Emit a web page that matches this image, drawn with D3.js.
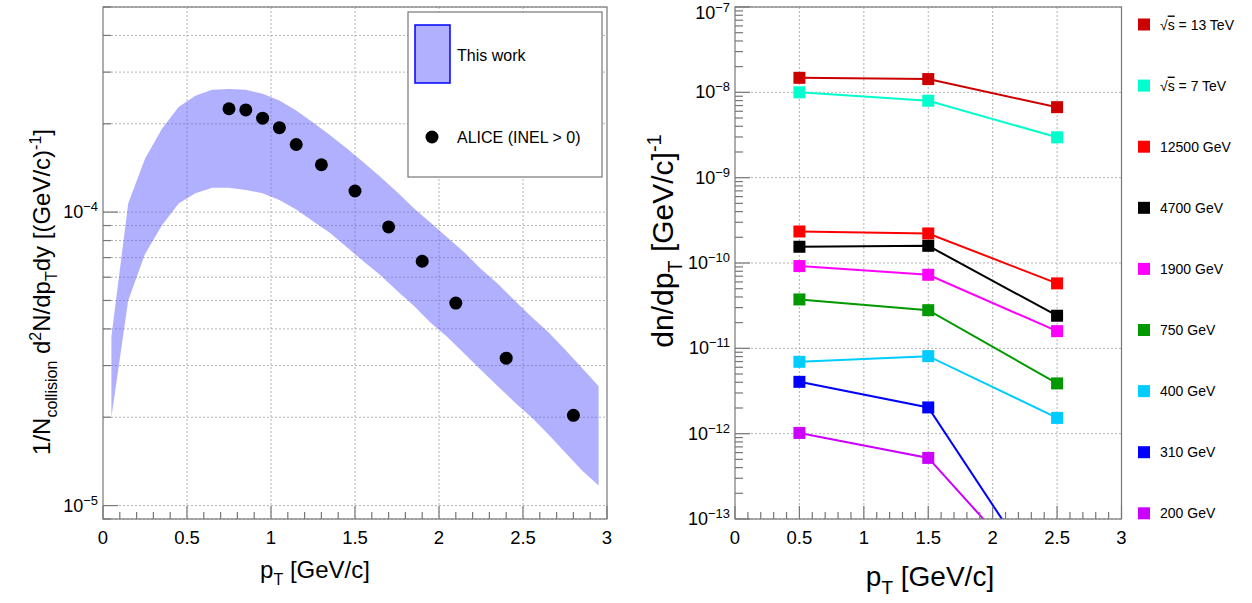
<!DOCTYPE html>
<html>
<head>
<meta charset="utf-8">
<script src="https://cdn.jsdelivr.net/npm/d3@7"></script>
<style>
  body { margin: 0; background: #fff; }
  svg { font-family: "Liberation Sans", Arial, sans-serif; }
</style>
</head>
<body>
<svg id="chart" width="1252" height="603"></svg>
<script>
// ---- left panel: model band + ALICE points ----
var bandPt = [0.05, 0.15, 0.25, 0.35, 0.45, 0.55, 0.65, 0.75, 0.85, 0.95,
              1.05, 1.15, 1.25, 1.35, 1.45, 1.55, 1.65, 1.75, 1.85, 1.95,
              2.05, 2.15, 2.25, 2.35, 2.45, 2.55, 2.65, 2.75, 2.85, 2.95];
var bandUpper = [3.76e-5, 1.07e-4, 1.52e-4, 1.92e-4, 2.28e-4, 2.49e-4, 2.61e-4, 2.63e-4, 2.61e-4, 2.53e-4,
                 2.40e-4, 2.22e-4, 2.02e-4, 1.83e-4, 1.65e-4, 1.48e-4, 1.32e-4, 1.17e-4, 1.03e-4, 9.2e-5,
                 8.2e-5, 7.3e-5, 6.4e-5, 5.7e-5, 5.0e-5, 4.4e-5, 3.9e-5, 3.4e-5, 2.95e-5, 2.55e-5];
var bandLower = [2.0e-5, 5.0e-5, 7.2e-5, 9.0e-5, 1.07e-4, 1.16e-4, 1.21e-4, 1.21e-4, 1.19e-4, 1.16e-4,
                 1.10e-4, 1.02e-4, 9.3e-5, 8.5e-5, 7.6e-5, 6.8e-5, 6.1e-5, 5.4e-5, 4.8e-5, 4.2e-5,
                 3.75e-5, 3.3e-5, 2.9e-5, 2.55e-5, 2.25e-5, 2.0e-5, 1.75e-5, 1.52e-5, 1.32e-5, 1.17e-5];
var alicePt = [0.75, 0.85, 0.95, 1.05, 1.15, 1.3, 1.5, 1.7, 1.9, 2.1, 2.4, 2.8];
var aliceY  = [2.25e-4, 2.23e-4, 2.09e-4, 1.94e-4, 1.70e-4, 1.45e-4, 1.18e-4, 8.9e-5, 6.8e-5, 4.9e-5, 3.18e-5, 2.03e-5];

// ---- right panel: dn/dpT vs energy ----
var rightPt = [0.5, 1.5, 2.5];
var s13TeV  = [1.48e-8, 1.43e-8, 6.7e-9];
var s7TeV   = [1.0e-8, 7.97e-9, 2.97e-9];
var e12500  = [2.34e-10, 2.22e-10, 5.77e-11];
var e4700   = [1.55e-10, 1.59e-10, 2.41e-11];
var e1900   = [9.2e-11, 7.28e-11, 1.59e-11];
var e750    = [3.74e-11, 2.8e-11, 3.88e-12];
var e400    = [6.95e-12, 8.1e-12, 1.53e-12];
var e310    = [4.05e-12, 2.03e-12, 1.05e-14];
var e200    = [1.02e-12, 5.2e-13, 1.1e-14];
var seriesNames = ["13 TeV", "7 TeV", "12500 GeV", "4700 GeV", "1900 GeV", "750 GeV", "400 GeV", "310 GeV", "200 GeV"];
var seriesColors = ["#cc0000", "#00ffcc", "#ff0000", "#000000", "#ff00ff", "#009900", "#00ccff", "#0000ff", "#cc00ff"];
var seriesValues = [s13TeV, s7TeV, e12500, e4700, e1900, e750, e400, e310, e200];

var svg = d3.select("#chart");
var axisCol = "#777";
var gridCol = "#b4b4b4";

function logTicks(lo, hi) {
    var out = [];
    for (var e = Math.floor(Math.log10(lo)); e <= Math.ceil(Math.log10(hi)); e++) {
        for (var k = 1; k <= 9; k++) {
            var v = k * Math.pow(10, e);
            if (v >= lo * 0.999 && v <= hi * 1.001) out.push({v: v, major: k === 1, e: e});
        }
    }
    return out;
}

function drawFrame(g, x, y, opts) {
    var x0 = x.range()[0], x1 = x.range()[1], yb = y.range()[0], yt = y.range()[1];
    var yd = y.domain();
    var yt_ = logTicks(yd[0], yd[1]);
    // grid
    var grid = g.append("g").attr("stroke", gridCol).attr("stroke-dasharray", "2,2").attr("stroke-width", 1);
    d3.range(0.5, 3, 0.5).forEach(function(t) {
        grid.append("line").attr("x1", x(t)).attr("x2", x(t)).attr("y1", yt).attr("y2", yb);
    });
    yt_.filter(function(t) { return opts.minorGrid || t.major; }).forEach(function(t) {
        grid.append("line").attr("x1", x0).attr("x2", x1).attr("y1", y(t.v)).attr("y2", y(t.v));
    });
    return yt_;
}

function drawAxes(g, x, y, yt_, opts) {
    var x0 = x.range()[0], x1 = x.range()[1], yb = y.range()[0], yt = y.range()[1];
    g.append("rect").attr("x", x0).attr("y", yt).attr("width", x1 - x0).attr("height", yb - yt)
        .attr("fill", "none").attr("stroke", axisCol).attr("stroke-width", 1.2);
    var tk = g.append("g").attr("stroke", axisCol).attr("stroke-width", 1.2);
    d3.range(0, 31).forEach(function(i) {
        var t = i / 10, len = (i % 5 === 0) ? 13 : 7;
        tk.append("line").attr("x1", x(t)).attr("x2", x(t)).attr("y1", yb).attr("y2", yb - len);
    });
    yt_.forEach(function(t) {
        tk.append("line").attr("x1", x0).attr("x2", x0 + (t.major ? 15 : 8)).attr("y1", y(t.v)).attr("y2", y(t.v));
    });
    // x labels
    [0, 0.5, 1, 1.5, 2, 2.5, 3].forEach(function(t) {
        g.append("text").attr("x", x(t)).attr("y", yb + 25).attr("text-anchor", "middle")
            .attr("font-size", 18.5).text(t);
    });
    // y labels at decades
    yt_.filter(function(t) { return t.major; }).forEach(function(t) {
        var ty = Math.max(y(t.v) + 6, 19);
        var tx = g.append("text").attr("x", x0 - 5).attr("y", ty).attr("text-anchor", "end")
            .attr("font-size", opts.yFont);
        tx.append("tspan").text("10");
        tx.append("tspan").attr("dy", -7).attr("font-size", opts.yFont * 0.72).text("\u2212" + Math.abs(t.e));
    });
}

// ---------- left panel ----------
var xL = d3.scaleLinear().domain([0, 3]).range([103, 607]);
var yL = d3.scaleLog().domain([9e-6, 5e-4]).range([519, 7]);
var gL = svg.append("g");
var ticksL = drawFrame(gL, xL, yL, {minorGrid: true});

var band = d3.area()
    .x(function(d, i) { return xL(bandPt[i]); })
    .y0(function(d, i) { return yL(bandLower[i]); })
    .y1(function(d, i) { return yL(bandUpper[i]); });
gL.append("path").datum(bandPt).attr("d", band)
    .attr("fill", "#5a5aff").attr("fill-opacity", 0.48);

gL.selectAll("circle.alice").data(alicePt).enter().append("circle")
    .attr("cx", function(d) { return xL(d); })
    .attr("cy", function(d, i) { return yL(aliceY[i]); })
    .attr("r", 6.5).attr("fill", "#000");

drawAxes(gL, xL, yL, ticksL, {yFont: 18});

// legend
var lg = gL.append("g");
lg.append("rect").attr("x", 408).attr("y", 12).attr("width", 194).attr("height", 165)
    .attr("fill", "#fff").attr("stroke", axisCol).attr("stroke-width", 1.2);
lg.append("rect").attr("x", 415).attr("y", 25).attr("width", 35).attr("height", 58)
    .attr("fill", "#b0b0ff").attr("stroke", "#0000ff").attr("stroke-width", 1.5);
lg.append("text").attr("x", 457).attr("y", 61).attr("font-size", 16).text("This work");
lg.append("circle").attr("cx", 432).attr("cy", 137).attr("r", 6.5).attr("fill", "#000");
lg.append("text").attr("x", 457).attr("y", 143).attr("font-size", 16).text("ALICE (INEL > 0)");

// titles
var tL = svg.append("text").attr("x", 315).attr("y", 578).attr("text-anchor", "middle").attr("font-size", 24);
tL.append("tspan").text("p");
tL.append("tspan").attr("dy", 7).attr("font-size", 16).text("T");
tL.append("tspan").attr("dy", -7).text(" [GeV/c]");

var yTL = svg.append("text").attr("transform", "translate(50,292) rotate(-90)")
    .attr("text-anchor", "middle").attr("font-size", 24);
yTL.append("tspan").text("1/N");
yTL.append("tspan").attr("dy", 7).attr("font-size", 16).text("collision");
yTL.append("tspan").attr("dy", -7).text(" d");
yTL.append("tspan").attr("dy", -9).attr("font-size", 16).text("2");
yTL.append("tspan").attr("dy", 9).text("N/dp");
yTL.append("tspan").attr("dy", 7).attr("font-size", 16).text("T");
yTL.append("tspan").attr("dy", -7).text("dy [(GeV/c)");
yTL.append("tspan").attr("dy", -9).attr("font-size", 16).text("-1");
yTL.append("tspan").attr("dy", 9).text("]");

// ---------- right panel ----------
var xR = d3.scaleLinear().domain([0, 3]).range([735, 1121.5]);
var yR = d3.scaleLog().domain([1e-13, 1e-7]).range([519, 7]);
var gR = svg.append("g");
var ticksR = drawFrame(gR, xR, yR, {minorGrid: false});

svg.append("defs").append("clipPath").attr("id", "clipR")
    .append("rect").attr("x", 735).attr("y", 7).attr("width", 386.5).attr("height", 512);

var line = d3.line()
    .x(function(d, i) { return xR(rightPt[i]); })
    .y(function(d) { return yR(d); });
var plotR = gR.append("g").attr("clip-path", "url(#clipR)");
seriesValues.forEach(function(vals, s) {
    plotR.append("path").datum(vals).attr("d", line)
        .attr("fill", "none").attr("stroke", seriesColors[s]).attr("stroke-width", 2);
    plotR.selectAll(null).data(vals).enter().append("rect")
        .attr("x", function(d, i) { return xR(rightPt[i]) - 6; })
        .attr("y", function(d) { return yR(d) - 6; })
        .attr("width", 12).attr("height", 12)
        .attr("fill", seriesColors[s]);
});

drawAxes(gR, xR, yR, ticksR, {yFont: 18});

// legend
seriesNames.forEach(function(name, s) {
    var cy = 24.5 + s * 61.1;
    svg.append("rect").attr("x", 1138).attr("y", cy - 6).attr("width", 12).attr("height", 12)
        .attr("fill", seriesColors[s]);
    var t = svg.append("text").attr("x", 1160).attr("y", cy + 5).attr("font-size", 14);
    if (s < 2) {
        t.append("tspan").text("\u221A");
        t.append("tspan").attr("text-decoration", "overline").text("s");
        t.append("tspan").text(" = " + name);
    } else {
        t.text(name);
    }
});

var tR = svg.append("text").attr("x", 930).attr("y", 586).attr("text-anchor", "middle").attr("font-size", 28);
tR.append("tspan").text("p");
tR.append("tspan").attr("dy", 8).attr("font-size", 19).text("T");
tR.append("tspan").attr("dy", -8).text(" [GeV/c]");

var yTR = svg.append("text").attr("transform", "translate(673,241) rotate(-90)")
    .attr("text-anchor", "middle").attr("font-size", 30);
yTR.append("tspan").text("dn/dp");
yTR.append("tspan").attr("dy", 9).attr("font-size", 20).text("T");
yTR.append("tspan").attr("dy", -9).text("  [GeV/c]");
yTR.append("tspan").attr("dy", -12).attr("font-size", 20).text("-1");
</script>
</body>
</html>
